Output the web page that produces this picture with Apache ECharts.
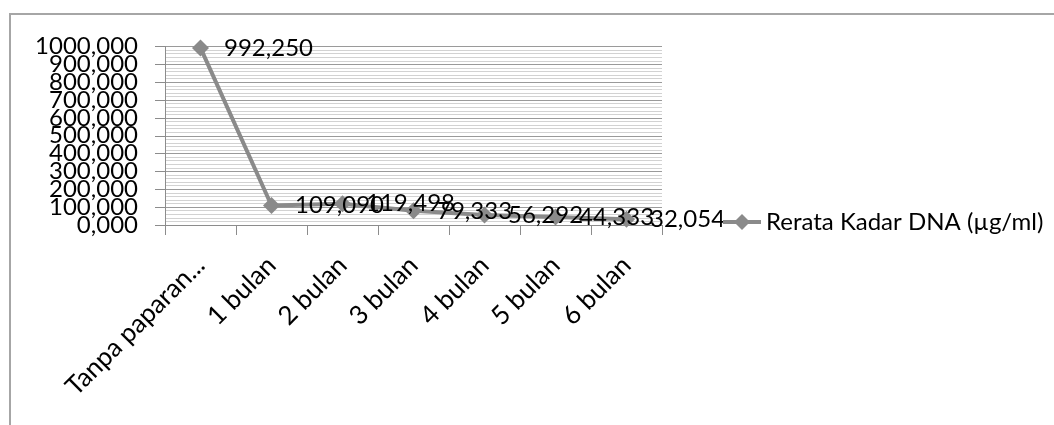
<!DOCTYPE html>
<html><head><meta charset="utf-8">
<script src="https://cdn.jsdelivr.net/npm/echarts@6/dist/echarts.min.js"></script>
<style>html,body{margin:0;padding:0;background:#fff}#c{width:1054px;height:425px}</style>
</head><body><div id="c"></div>
<script>
const categories = ['Tanpa paparan...', '1 bulan', '2 bulan', '3 bulan', '4 bulan', '5 bulan', '6 bulan'];
const values = [992.250, 109.090, 119.498, 79.333, 56.292, 44.333, 32.054];
const seriesName = 'Rerata Kadar DNA (µg/ml)';
const yMin = 0, yMax = 1000, yStep = 100;

const FONT = 'Lato';
const fmt = v => Number(v).toFixed(3).replace('.', ',');
const yLabelBase = { fontSize: 24, fontFamily: FONT, color: '#000', margin: 27 };
const chart = echarts.init(document.getElementById('c'));
chart.setOption({
  animation: false,
  textStyle: { fontFamily: FONT },
  graphic: [{
    type: 'rect', shape: { x: 10, y: 14, width: 1200, height: 600 },
    style: { fill: 'none', stroke: '#a6a6a6', lineWidth: 2 }, silent: true, z: -1
  }],
  grid: { left: 165, right: 392, top: 46.5, bottom: 200, containLabel: false },
  legend: {
    left: 716, top: 205, orient: 'vertical', itemWidth: 38, itemHeight: 20, itemGap: 5,
    lineStyle: { width: 4 },
    textStyle: { fontFamily: FONT, fontSize: 24, color: '#000' },
    data: [seriesName]
  },
  xAxis: {
    type: 'category', data: categories, boundaryGap: true,
    axisLine: { lineStyle: { color: '#8c8c8c', width: 1 } },
    axisTick: { show: true, length: 10, lineStyle: { color: '#8c8c8c' } },
    axisLabel: { rotate: 45, interval: 0, fontSize: 26, fontFamily: FONT, color: '#000', margin: 36 },
    splitLine: { show: false }
  },
  yAxis: [{
    type: 'value', min: yMin, max: yMax, interval: yStep, position: 'left',
    axisLine: { show: true, lineStyle: { color: '#8c8c8c', width: 1 } },
    axisTick: { show: true, length: 10, lineStyle: { color: '#8c8c8c' } },
    axisLabel: Object.assign({ formatter: fmt, showMinLabel: false, showMaxLabel: false }, yLabelBase),
    splitLine: { show: true, lineStyle: { color: '#9a9a9a', width: 1 } },
    minorSplitLine: { show: true, lineStyle: { color: '#d2d2d2', width: 1 } },
    minorTick: { show: false, splitNumber: 5 }
  }, {
    type: 'value', min: yMin, max: yMax, interval: yStep, position: 'left', offset: 0,
    axisLine: { show: false }, axisTick: { show: true, length: 10, lineStyle: { color: '#8c8c8c' } },
    splitLine: { show: false },
    axisLabel: Object.assign({
      formatter: v => (v === yMin || v === yMax) ? fmt(v) : '',
      showMinLabel: true, showMaxLabel: true }, yLabelBase)
  }],
  series: [{
    name: seriesName, type: 'line', data: values, yAxisIndex: 0,
    symbol: 'diamond', symbolSize: 17,
    lineStyle: { color: '#8a8a8a', width: 4 },
    itemStyle: { color: '#8a8a8a' },
    label: { show: true, position: 'right', distance: 15, formatter: p => fmt(p.value),
             fontSize: 24, fontFamily: FONT, color: '#000' },
    labelLayout: { hideOverlap: false },
    z: 3
  }]
});
</script></body></html>
